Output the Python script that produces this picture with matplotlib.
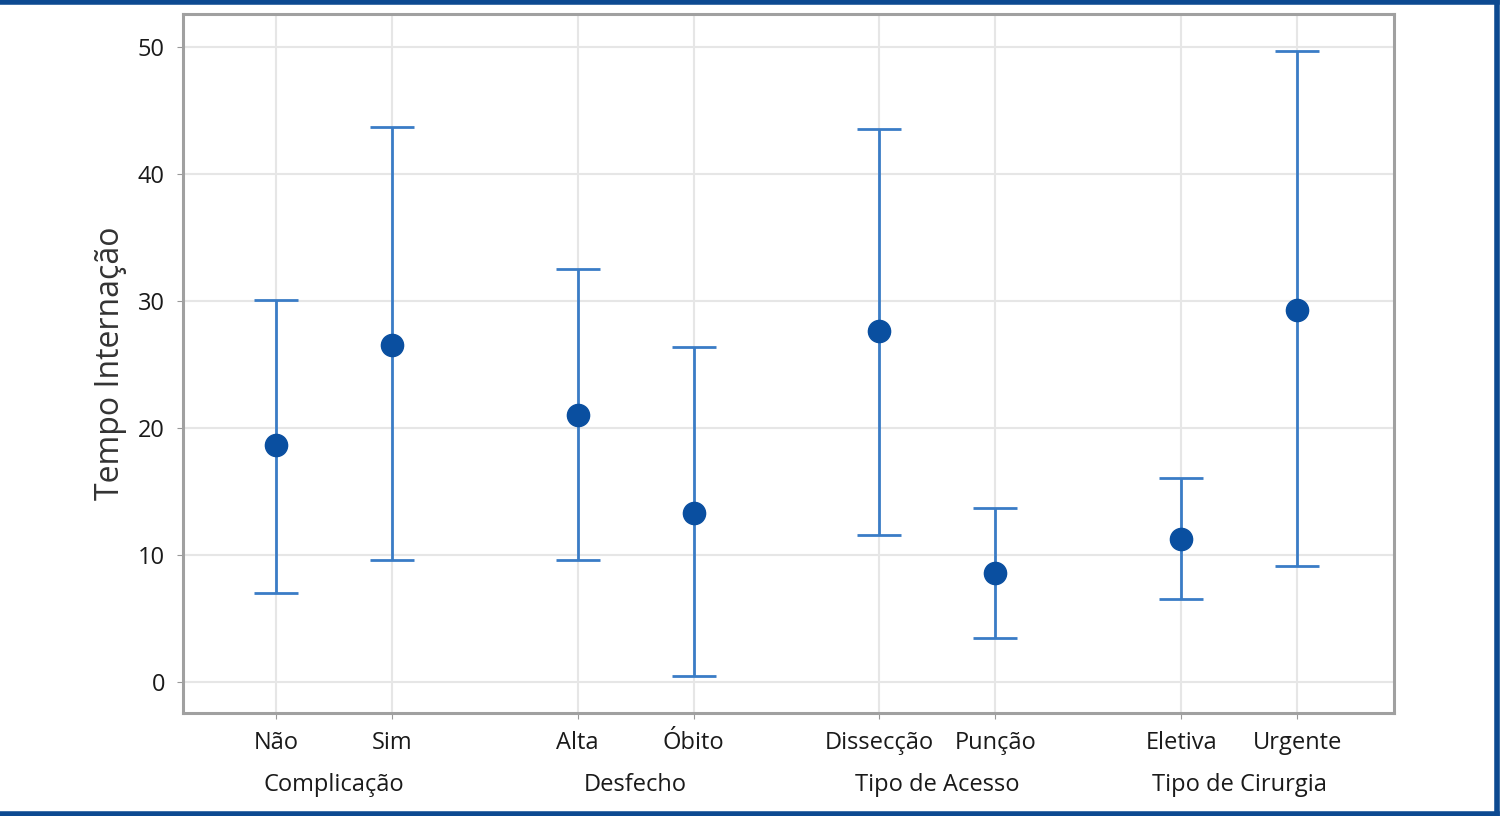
import matplotlib
matplotlib.use("Agg")
import matplotlib.pyplot as plt
from matplotlib.lines import Line2D

plt.rcParams['font.family'] = ['Open Sans', 'DejaVu Sans']

# categories and intervals (mean, lower, upper)
categories = ["Não", "Sim", "Alta", "Óbito", "Dissecção", "Punção", "Eletiva", "Urgente"]
groups = ["Complicação", "Desfecho", "Tipo de Acesso", "Tipo de Cirurgia"]
means = [18.7, 26.5, 21.0, 13.3, 27.6, 8.6, 11.3, 29.3]
lower = [7.0, 9.6, 9.6, 0.5, 11.6, 3.5, 6.5, 9.1]
upper = [30.1, 43.7, 32.5, 26.4, 43.5, 13.7, 16.1, 49.7]
yticks = [0, 10, 20, 30, 40, 50]

# x positions: two per group, wider gap between groups
xpos = []
for g in range(len(groups)):
    xpos += [g * 2.6, g * 2.6 + 1]

fig = plt.figure(figsize=(15, 8.16), dpi=100)
ax = fig.add_axes([0.122, 0.126, 0.807, 0.857])

err_lo = [m - l for m, l in zip(means, lower)]
err_hi = [u - m for m, u in zip(means, upper)]
ax.errorbar(xpos, means, yerr=[err_lo, err_hi], fmt='none', ecolor='#3a7cc6',
            elinewidth=2.0, capsize=16, capthick=2.0, zorder=3)
ax.plot(xpos, means, 'o', color='#0a4fa0', markersize=16, zorder=4)

ax.set_xlim(-0.8, 9.63)
ax.set_ylim(-2.45, 52.6)
ax.set_xticks(xpos)
ax.set_xticklabels(categories, fontsize=17, color='#1a1a1a', fontweight='medium')
ax.set_yticks(yticks)
ax.set_yticklabels([str(v) for v in yticks], fontsize=17, color='#1a1a1a', fontweight='medium')
ax.grid(True, color='#e6e6e6', lw=1.5, zorder=0)
ax.tick_params(axis='both', length=4, color='#999999', pad=9)
for s in ax.spines.values():
    s.set_color('#a0a0a0')
    s.set_linewidth(2.2)
ax.set_ylabel("Tempo Internação", fontsize=23, labelpad=8, color='#333333')

for g, name in enumerate(groups):
    ax.text(g * 2.6 + 0.5, -0.102, name, transform=ax.get_xaxis_transform(),
            ha='center', va='center', fontsize=17, color='#1a1a1a', fontweight='medium')

# dark blue frame on top, right and bottom of the figure
frame = dict(color='#0d4a91', lw=4, transform=fig.transFigure)
fig.lines += [Line2D([0, 0.998], [0.998, 0.998], **frame),
              Line2D([0.998, 0.998], [0.002, 0.998], **frame),
              Line2D([0, 0.998], [0.002, 0.002], **frame)]

fig.savefig("out.png", dpi=100)
